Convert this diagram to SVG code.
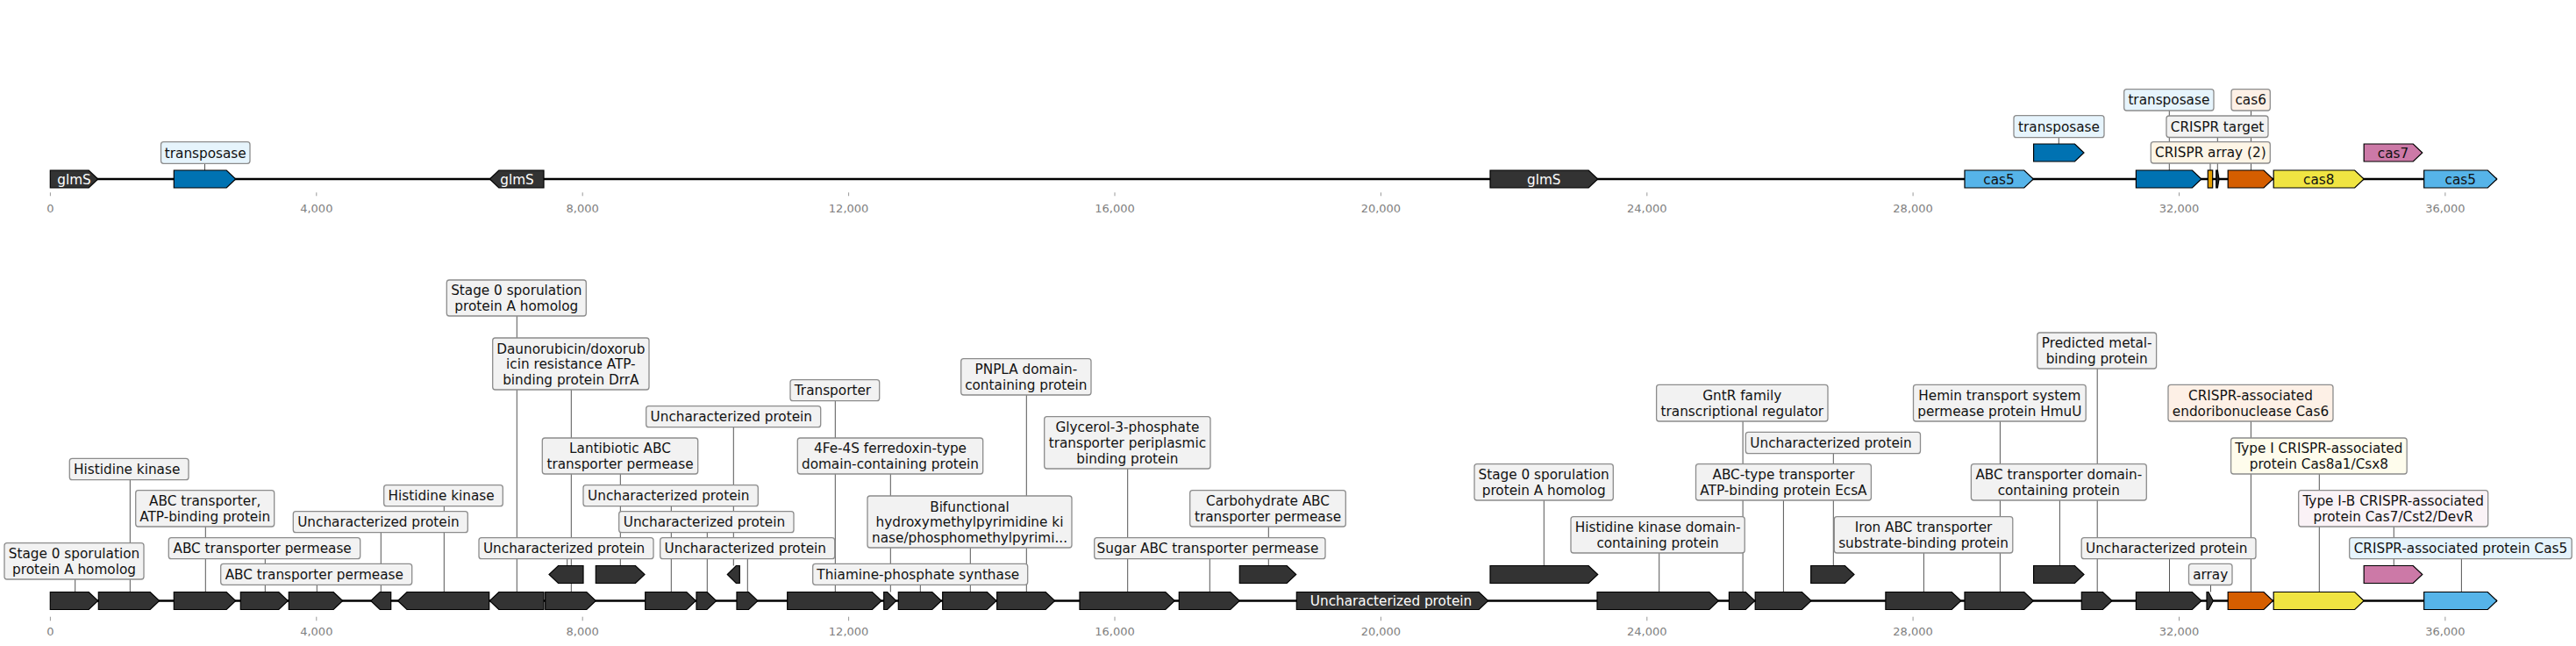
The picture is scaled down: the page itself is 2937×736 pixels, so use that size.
<svg xmlns="http://www.w3.org/2000/svg" width="2937" height="736" viewBox="0 0 2937 736">
<style>
.axis{stroke:#000;stroke-width:2.6;fill:none}
.tk{stroke:#999;stroke-width:1}
.tl{font-family:'DejaVu Sans',sans-serif;font-size:13px;fill:#808080;text-anchor:middle}
.g{stroke:#000;stroke-width:1.2}
.dk{fill:#333}
.tp{fill:#0072b2}
.c5{fill:#56b4e9}
.c6{fill:#d55e00}
.c8{fill:#f0e442}
.c7{fill:#cc79a7}
.cr{fill:#e69f00}
.box{fill:#f2f2f2;stroke:#8c8c8c;stroke-width:1.3}
.bb{fill:#e6f4fc}
.bo{fill:#fdf0e6}
.by{fill:#fefcec}
.bp{fill:#faf2f6}
.ba{fill:#fdf5e6}
.ld{stroke:#555;stroke-width:1;fill:none}
.lt{font-family:'DejaVu Sans',sans-serif;font-size:15.28px;fill:#111;text-anchor:middle}
.gt{font-family:'DejaVu Sans',sans-serif;font-size:15.28px;text-anchor:middle}
.w{fill:#fff}
.k{fill:#111}
</style>
<rect width="2937" height="736" fill="#fff"/>

<g id="axes">
<line class="axis" x1="57.3" y1="204" x2="2846.8" y2="204"/>
<line class="axis" x1="57.3" y1="684.5" x2="2846.8" y2="684.5"/>
<g id="ticks-top">
<line class="tk" x1="57.4" y1="219.3" x2="57.4" y2="223.3"/>
<line class="tk" x1="360.8" y1="219.3" x2="360.8" y2="223.3"/>
<line class="tk" x1="664.2" y1="219.3" x2="664.2" y2="223.3"/>
<line class="tk" x1="967.6" y1="219.3" x2="967.6" y2="223.3"/>
<line class="tk" x1="1271" y1="219.3" x2="1271" y2="223.3"/>
<line class="tk" x1="1574.4" y1="219.3" x2="1574.4" y2="223.3"/>
<line class="tk" x1="1877.8" y1="219.3" x2="1877.8" y2="223.3"/>
<line class="tk" x1="2181.1" y1="219.3" x2="2181.1" y2="223.3"/>
<line class="tk" x1="2484.5" y1="219.3" x2="2484.5" y2="223.3"/>
<line class="tk" x1="2787.9" y1="219.3" x2="2787.9" y2="223.3"/>
<text class="tl" x="57.4" y="241.5">0</text>
<text class="tl" x="360.8" y="241.5">4,000</text>
<text class="tl" x="664.2" y="241.5">8,000</text>
<text class="tl" x="967.6" y="241.5">12,000</text>
<text class="tl" x="1271" y="241.5">16,000</text>
<text class="tl" x="1574.4" y="241.5">20,000</text>
<text class="tl" x="1877.8" y="241.5">24,000</text>
<text class="tl" x="2181.1" y="241.5">28,000</text>
<text class="tl" x="2484.5" y="241.5">32,000</text>
<text class="tl" x="2787.9" y="241.5">36,000</text>
</g>
<g id="ticks-bottom">
<line class="tk" x1="57.4" y1="702.7" x2="57.4" y2="707.3"/>
<line class="tk" x1="360.8" y1="702.7" x2="360.8" y2="707.3"/>
<line class="tk" x1="664.2" y1="702.7" x2="664.2" y2="707.3"/>
<line class="tk" x1="967.6" y1="702.7" x2="967.6" y2="707.3"/>
<line class="tk" x1="1271" y1="702.7" x2="1271" y2="707.3"/>
<line class="tk" x1="1574.4" y1="702.7" x2="1574.4" y2="707.3"/>
<line class="tk" x1="1877.8" y1="702.7" x2="1877.8" y2="707.3"/>
<line class="tk" x1="2181.1" y1="702.7" x2="2181.1" y2="707.3"/>
<line class="tk" x1="2484.5" y1="702.7" x2="2484.5" y2="707.3"/>
<line class="tk" x1="2787.9" y1="702.7" x2="2787.9" y2="707.3"/>
<text class="tl" x="57.4" y="724">0</text>
<text class="tl" x="360.8" y="724">4,000</text>
<text class="tl" x="664.2" y="724">8,000</text>
<text class="tl" x="967.6" y="724">12,000</text>
<text class="tl" x="1271" y="724">16,000</text>
<text class="tl" x="1574.4" y="724">20,000</text>
<text class="tl" x="1877.8" y="724">24,000</text>
<text class="tl" x="2181.1" y="724">28,000</text>
<text class="tl" x="2484.5" y="724">32,000</text>
<text class="tl" x="2787.9" y="724">36,000</text>
</g>
</g>

<g id="connectors">
<line class="ld" x1="233.5" y1="186.3" x2="233.5" y2="194"/>
<line class="ld" x1="2347.3" y1="156.7" x2="2347.3" y2="164"/>
<line class="ld" x1="2473.3" y1="126" x2="2473.3" y2="194"/>
<line class="ld" x1="2566.5" y1="126" x2="2566.5" y2="194"/>
<line class="ld" x1="2528.3" y1="156.5" x2="2528.3" y2="194"/>
<line class="ld" x1="2520" y1="186" x2="2520" y2="194"/>

<line class="ld" x1="85.7" y1="660" x2="85.7" y2="674.5"/>
<line class="ld" x1="148.3" y1="546.7" x2="148.3" y2="674.5"/>
<line class="ld" x1="234.3" y1="600" x2="234.3" y2="674.5"/>
<line class="ld" x1="302.3" y1="636.7" x2="302.3" y2="674.5"/>
<line class="ld" x1="361.3" y1="666.3" x2="361.3" y2="674.5"/>
<line class="ld" x1="434.3" y1="606.7" x2="434.3" y2="674.5"/>
<line class="ld" x1="506.3" y1="576.7" x2="506.3" y2="674.5"/>
<line class="ld" x1="589.3" y1="360" x2="589.3" y2="674.5"/>
<line class="ld" x1="651.3" y1="444" x2="651.3" y2="674.5"/>
<line class="ld" x1="646.7" y1="636.7" x2="646.7" y2="644.5"/>
<line class="ld" x1="707.3" y1="540" x2="707.3" y2="644.5"/>
<line class="ld" x1="765.3" y1="576.7" x2="765.3" y2="674.5"/>
<line class="ld" x1="806.3" y1="606.7" x2="806.3" y2="674.5"/>
<line class="ld" x1="836.3" y1="486.7" x2="836.3" y2="644.5"/>
<line class="ld" x1="852.3" y1="636.7" x2="852.3" y2="674.5"/>
<line class="ld" x1="952.3" y1="456.7" x2="952.3" y2="674.5"/>
<line class="ld" x1="1015.3" y1="540" x2="1015.3" y2="674.5"/>
<line class="ld" x1="1049.3" y1="666.3" x2="1049.3" y2="674.5"/>
<line class="ld" x1="1106.3" y1="624" x2="1106.3" y2="674.5"/>
<line class="ld" x1="1170.3" y1="450" x2="1170.3" y2="674.5"/>
<line class="ld" x1="1285.7" y1="534" x2="1285.7" y2="674.5"/>
<line class="ld" x1="1379.3" y1="636.7" x2="1379.3" y2="674.5"/>
<line class="ld" x1="1446.3" y1="600" x2="1446.3" y2="644.5"/>
<line class="ld" x1="1760.3" y1="570" x2="1760.3" y2="644.5"/>
<line class="ld" x1="1891.7" y1="630" x2="1891.7" y2="674.5"/>
<line class="ld" x1="1987.1" y1="480" x2="1987.1" y2="674.5"/>
<line class="ld" x1="2090.3" y1="516.7" x2="2090.3" y2="644.5"/>
<line class="ld" x1="2033.4" y1="570" x2="2033.4" y2="674.5"/>
<line class="ld" x1="2193.4" y1="630" x2="2193.4" y2="674.5"/>
<line class="ld" x1="2280.4" y1="480" x2="2280.4" y2="674.5"/>
<line class="ld" x1="2348.4" y1="570" x2="2348.4" y2="644.5"/>
<line class="ld" x1="2391.2" y1="420" x2="2391.2" y2="674.5"/>
<line class="ld" x1="2473.5" y1="636.7" x2="2473.5" y2="674.5"/>
<line class="ld" x1="2520.5" y1="666.5" x2="2520.5" y2="674.5"/>
<line class="ld" x1="2566.4" y1="480" x2="2566.4" y2="674.5"/>
<line class="ld" x1="2644.3" y1="540" x2="2644.3" y2="674.5"/>
<line class="ld" x1="2729.3" y1="600" x2="2729.3" y2="644.5"/>
<line class="ld" x1="2806.4" y1="636.7" x2="2806.4" y2="674.5"/>
</g>

<g id="top-genes">
<g id="t-glmS-1"><path class="g dk" d="M57.3 194H101.2L111.7 204L101.2 214H57.3Z"/><text class="gt w" x="84.5" y="209.6">glmS</text></g>
<g id="t-transposase-1"><path class="g tp" d="M198.3 194H258.2L268.7 204L258.2 214H198.3Z"/></g>
<g id="t-glmS-2"><path class="g dk" d="M620 194H568.8L558.3 204L568.8 214H620Z"/><text class="gt w" x="589.5" y="209.6">glmS</text></g>
<g id="t-glmS-3"><path class="g dk" d="M1699 194H1811.2L1821.7 204L1811.2 214H1699Z"/><text class="gt w" x="1760.3" y="209.6">glmS</text></g>
<g id="t-cas5-1"><path class="g c5" d="M2240 194H2307.8L2318.3 204L2307.8 214H2240Z"/><text class="gt k" x="2279" y="209.6">cas5</text></g>
<g id="t-transposase-2"><path class="g tp" d="M2318.6 164H2365.5L2376 174L2365.5 184H2318.6Z"/></g>
<g id="t-transposase-3"><path class="g tp" d="M2435.4 194H2499.4L2509.9 204L2499.4 214H2435.4Z"/></g>
<g id="t-crispr-array"><rect class="g cr" x="2517.3" y="194" width="5.4" height="20"/></g>
<g id="t-crispr-target"><path class="g" fill="#222" d="M2526.7 194H2528.4L2530 204L2528.4 214H2526.7Z"/></g>
<g id="t-cas6"><path class="g c6" d="M2540.2 194H2581L2591.5 204L2581 214H2540.2Z"/></g>
<g id="t-cas8"><path class="g c8" d="M2592.2 194H2684.7L2695.2 204L2684.7 214H2592.2Z"/><text class="gt k" x="2643.7" y="209.6">cas8</text></g>
<g id="t-cas7"><path class="g c7" d="M2695.2 164H2751.3L2761.8 174L2751.3 184H2695.2Z"/><text class="gt k" x="2728.5" y="179.6">cas7</text></g>
<g id="t-cas5-2"><path class="g c5" d="M2763.7 194H2836.3L2846.8 204L2836.3 214H2763.7Z"/><text class="gt k" x="2805.2" y="209.6">cas5</text></g>
</g>

<g id="bottom-genes">
<path id="b-g1" class="g dk" d="M57.3 674.5H101.2L111.7 684.5L101.2 694.5H57.3Z"/>
<path id="b-g2" class="g dk" d="M112.3 674.5H171.2L181.7 684.5L171.2 694.5H112.3Z"/>
<path id="b-g3" class="g dk" d="M198.3 674.5H258.2L268.7 684.5L258.2 694.5H198.3Z"/>
<path id="b-g4" class="g dk" d="M274.3 674.5H317.8L328.3 684.5L317.8 694.5H274.3Z"/>
<path id="b-g5" class="g dk" d="M329.3 674.5H380.2L390.7 684.5L380.2 694.5H329.3Z"/>
<path id="b-g6" class="g dk" d="M445.7 674.5H433.2L422.7 684.5L433.2 694.5H445.7Z"/>
<path id="b-g7" class="g dk" d="M557.7 674.5H464L453.5 684.5L464 694.5H557.7Z"/>
<path id="b-g8" class="g dk" d="M620 674.5H568.8L558.3 684.5L568.8 694.5H620Z"/>
<path id="b-g9" class="g dk" d="M621.7 674.5H668.8L679.3 684.5L668.8 694.5H621.7Z"/>
<path id="b-g10" class="g dk" d="M735.7 674.5H782.8L793.3 684.5L782.8 694.5H735.7Z"/>
<path id="b-g11" class="g dk" d="M794 674.5H806.2L816.7 684.5L806.2 694.5H794Z"/>
<path id="b-g12" class="g dk" d="M840 674.5H853.5L864 684.5L853.5 694.5H840Z"/>
<path id="b-g13" class="g dk" d="M897.7 674.5H994.5L1005 684.5L994.5 694.5H897.7Z"/>
<path id="b-g14" class="g dk" d="M1007.7 674.5H1011.7L1021.7 684.5L1011.7 694.5H1007.7Z"/>
<path id="b-g15" class="g dk" d="M1024.3 674.5H1062.8L1073.3 684.5L1062.8 694.5H1024.3Z"/>
<path id="b-g16" class="g dk" d="M1074.7 674.5H1125.5L1136 684.5L1125.5 694.5H1074.7Z"/>
<path id="b-g17" class="g dk" d="M1136.7 674.5H1192.2L1202.7 684.5L1192.2 694.5H1136.7Z"/>
<path id="b-g18" class="g dk" d="M1231 674.5H1328.8L1339.3 684.5L1328.8 694.5H1231Z"/>
<path id="b-g19" class="g dk" d="M1344.3 674.5H1402.8L1413.3 684.5L1402.8 694.5H1344.3Z"/>
<g id="b-g20"><path class="g dk" d="M1478.3 674.5H1686.2L1696.7 684.5L1686.2 694.5H1478.3Z"/><text class="gt w" x="1586" y="690.1">Uncharacterized protein</text></g>
<path id="b-g21" class="g dk" d="M1821 674.5H1948.9L1959.4 684.5L1948.9 694.5H1821Z"/>
<path id="b-g22" class="g dk" d="M1971.4 674.5H1990.3L2000.8 684.5L1990.3 694.5H1971.4Z"/>
<path id="b-g23" class="g dk" d="M2001.2 674.5H2054.5L2065 684.5L2054.5 694.5H2001.2Z"/>
<path id="b-g24" class="g dk" d="M2149.9 674.5H2225.3L2235.8 684.5L2225.3 694.5H2149.9Z"/>
<path id="b-g25" class="g dk" d="M2240 674.5H2307.8L2318.3 684.5L2307.8 694.5H2240Z"/>
<path id="b-g26" class="g dk" d="M2373.3 674.5H2397.5L2408 684.5L2397.5 694.5H2373.3Z"/>
<path id="b-g27" class="g dk" d="M2435.4 674.5H2499.4L2509.9 684.5L2499.4 694.5H2435.4Z"/>
<path id="b-array" class="g dk" d="M2516 674.5H2518L2523.3 684.5L2518 694.5H2516Z"/>
<path id="b-cas6" class="g c6" d="M2540.2 674.5H2581L2591.5 684.5L2581 694.5H2540.2Z"/>
<path id="b-cas8" class="g c8" d="M2592.2 674.5H2684.7L2695.2 684.5L2684.7 694.5H2592.2Z"/>
<path id="b-cas5" class="g c5" d="M2763.7 674.5H2836.3L2846.8 684.5L2836.3 694.5H2763.7Z"/>
<path id="b-u1" class="g dk" d="M665 644.5H636.5L626 654.5L636.5 664.5H665Z"/>
<path id="b-u2" class="g dk" d="M679.3 644.5H724.5L735 654.5L724.5 664.5H679.3Z"/>
<path id="b-u3" class="g dk" d="M843.3 644.5H839.3L829.3 654.5L839.3 664.5H843.3Z"/>
<path id="b-u4" class="g dk" d="M1413.3 644.5H1467.2L1477.7 654.5L1467.2 664.5H1413.3Z"/>
<path id="b-u5" class="g dk" d="M1699 644.5H1811.2L1821.7 654.5L1811.2 664.5H1699Z"/>
<path id="b-u6" class="g dk" d="M2064.7 644.5H2103.5L2114 654.5L2103.5 664.5H2064.7Z"/>
<path id="b-u7" class="g dk" d="M2318.6 644.5H2365.5L2376 654.5L2365.5 664.5H2318.6Z"/>
<path id="b-cas7" class="g c7" d="M2695.2 644.5H2751.3L2761.8 654.5L2751.3 664.5H2695.2Z"/>
</g>

<g id="top-labels">
<g id="tl1"><rect class="box bb" x="183.5" y="161.7" width="101.5" height="24.6" rx="3"/><text class="lt" x="234.25" y="179.6">transposase</text></g>
<g id="tl2"><rect class="box bb" x="2296" y="131.7" width="103" height="25" rx="3"/><text class="lt" x="2347.5" y="149.8">transposase</text></g>
<g id="tl3"><rect class="box bb" x="2421.7" y="101.7" width="102.3" height="24.3" rx="3"/><text class="lt" x="2472.85" y="119.45">transposase</text></g>
<g id="tl4"><rect class="box bo" x="2544" y="101.7" width="44.3" height="24.3" rx="3"/><text class="lt" x="2566.15" y="119.45">cas6</text></g>
<g id="tl5"><rect class="box" x="2470" y="132" width="116" height="24.5" rx="3"/><text class="lt" x="2528" y="149.85">CRISPR target</text></g>
<g id="tl6"><rect class="box ba" x="2452.3" y="161.7" width="136" height="24.3" rx="3"/><text class="lt" x="2520.3" y="179.45">CRISPR array (2)</text></g>
</g>

<g id="bottom-labels">
<g id="bl1"><rect class="box" x="5" y="618.7" width="159" height="41.3" rx="3"/><text class="lt" x="84.5" y="636.2">Stage 0 sporulation<tspan x="84.5" y="653.8">protein A homolog</tspan></text></g>
<g id="bl2"><rect class="box" x="79.3" y="522.3" width="135.7" height="24.4" rx="3"/><text class="lt" x="144.7" y="540.1">Histidine kinase</text></g>
<g id="bl3"><rect class="box" x="154.7" y="558.7" width="158" height="41.3" rx="3"/><text class="lt" x="233.7" y="576.2">ABC transporter,<tspan x="233.7" y="593.8">ATP-binding protein</tspan></text></g>
<g id="bl4"><rect class="box" x="192.3" y="612.7" width="218.4" height="24" rx="3"/><text class="lt" x="299.1" y="630.3">ABC transporter permease</text></g>
<g id="bl5"><rect class="box" x="251.7" y="642.3" width="218" height="24" rx="3"/><text class="lt" x="358.3" y="659.9">ABC transporter permease</text></g>
<g id="bl6"><rect class="box" x="334.3" y="582.7" width="199" height="24" rx="3"/><text class="lt" x="431.4" y="600.3">Uncharacterized protein</text></g>
<g id="bl7"><rect class="box" x="437.7" y="552.7" width="135.6" height="24" rx="3"/><text class="lt" x="503.1" y="570.3">Histidine kinase</text></g>
<g id="bl8"><rect class="box" x="509.3" y="319" width="159" height="41" rx="3"/><text class="lt" x="588.8" y="336.3">Stage 0 sporulation<tspan x="588.8" y="353.9">protein A homolog</tspan></text></g>
<g id="bl9"><rect class="box" x="561.7" y="385" width="178.3" height="59" rx="3"/><text class="lt" x="650.85" y="402.5">Daunorubicin/doxorub<tspan x="650.85" y="420.1">icin resistance ATP-</tspan><tspan x="650.85" y="437.7">binding protein DrrA</tspan></text></g>
<g id="bl10"><rect class="box" x="546" y="612.7" width="199" height="24" rx="3"/><text class="lt" x="643.1" y="630.3">Uncharacterized protein</text></g>
<g id="bl11"><rect class="box" x="618.3" y="499" width="177.4" height="41" rx="3"/><text class="lt" x="707" y="516.3">Lantibiotic ABC<tspan x="707" y="533.9">transporter permease</tspan></text></g>
<g id="bl12"><rect class="box" x="665" y="552.7" width="199.3" height="24" rx="3"/><text class="lt" x="762.25" y="570.3">Uncharacterized protein</text></g>
<g id="bl13"><rect class="box" x="705.7" y="582.7" width="199.3" height="24" rx="3"/><text class="lt" x="802.95" y="600.3">Uncharacterized protein</text></g>
<g id="bl14"><rect class="box" x="736.7" y="462.7" width="199" height="24" rx="3"/><text class="lt" x="833.8" y="480.3">Uncharacterized protein</text></g>
<g id="bl15"><rect class="box" x="752.7" y="612.7" width="199" height="24" rx="3"/><text class="lt" x="849.8" y="630.3">Uncharacterized protein</text></g>
<g id="bl16"><rect class="box" x="901" y="432.7" width="101.7" height="24" rx="3"/><text class="lt" x="949.45" y="450.3">Transporter</text></g>
<g id="bl17"><rect class="box" x="909.3" y="499" width="211.4" height="41" rx="3"/><text class="lt" x="1015" y="516.3">4Fe-4S ferredoxin-type<tspan x="1015" y="533.9">domain-containing protein</tspan></text></g>
<g id="bl18"><rect class="box" x="926.7" y="642.3" width="245" height="24" rx="3"/><text class="lt" x="1046.8" y="659.9">Thiamine-phosphate synthase</text></g>
<g id="bl19"><rect class="box" x="989" y="565" width="233" height="59" rx="3"/><text class="lt" x="1105.5" y="582.5">Bifunctional<tspan x="1105.5" y="600.1">hydroxymethylpyrimidine ki</tspan><tspan x="1105.5" y="617.7">nase/phosphomethylpyrimi...</tspan></text></g>
<g id="bl20"><rect class="box" x="1095.7" y="408.7" width="148.3" height="41.3" rx="3"/><text class="lt" x="1169.85" y="426.2">PNPLA domain-<tspan x="1169.85" y="443.8">containing protein</tspan></text></g>
<g id="bl21"><rect class="box" x="1190.7" y="474.7" width="189.3" height="59.3" rx="3"/><text class="lt" x="1285.35" y="492.35">Glycerol-3-phosphate<tspan x="1285.35" y="509.95">transporter periplasmic</tspan><tspan x="1285.35" y="527.55">binding protein</tspan></text></g>
<g id="bl22"><rect class="box" x="1247.7" y="612.7" width="263.3" height="24" rx="3"/><text class="lt" x="1376.95" y="630.3">Sugar ABC transporter permease</text></g>
<g id="bl23"><rect class="box" x="1356.7" y="558.7" width="177.6" height="41.3" rx="3"/><text class="lt" x="1445.5" y="576.2">Carbohydrate ABC<tspan x="1445.5" y="593.8">transporter permease</tspan></text></g>
<g id="bl24"><rect class="box" x="1681" y="528.7" width="158.3" height="41.3" rx="3"/><text class="lt" x="1760.15" y="546.2">Stage 0 sporulation<tspan x="1760.15" y="563.8">protein A homolog</tspan></text></g>
<g id="bl25"><rect class="box" x="1791" y="588.7" width="198.2" height="41.3" rx="3"/><text class="lt" x="1890.1" y="606.2">Histidine kinase domain-<tspan x="1890.1" y="623.8">containing protein</tspan></text></g>
<g id="bl26"><rect class="box" x="1888.6" y="438.3" width="195.4" height="41.7" rx="3"/><text class="lt" x="1986.3" y="456">GntR family<tspan x="1986.3" y="473.6">transcriptional regulator</tspan></text></g>
<g id="bl27"><rect class="box" x="1990.3" y="492.3" width="199.2" height="24.4" rx="3"/><text class="lt" x="2087.5" y="510.1">Uncharacterized protein</text></g>
<g id="bl28"><rect class="box" x="1933.5" y="528.7" width="199.9" height="41.3" rx="3"/><text class="lt" x="2033.45" y="546.2">ABC-type transporter<tspan x="2033.45" y="563.8">ATP-binding protein EcsA</tspan></text></g>
<g id="bl29"><rect class="box" x="2091.3" y="588.7" width="203.5" height="41.3" rx="3"/><text class="lt" x="2193.05" y="606.2">Iron ABC transporter<tspan x="2193.05" y="623.8">substrate-binding protein</tspan></text></g>
<g id="bl30"><rect class="box" x="2181.5" y="438.3" width="196.7" height="41.7" rx="3"/><text class="lt" x="2279.85" y="456">Hemin transport system<tspan x="2279.85" y="473.6">permease protein HmuU</tspan></text></g>
<g id="bl31"><rect class="box" x="2247.4" y="528.7" width="199.9" height="41.3" rx="3"/><text class="lt" x="2347.35" y="546.2">ABC transporter domain-<tspan x="2347.35" y="563.8">containing protein</tspan></text></g>
<g id="bl32"><rect class="box" x="2322.8" y="379" width="135.8" height="41" rx="3"/><text class="lt" x="2390.7" y="396.3">Predicted metal-<tspan x="2390.7" y="413.9">binding protein</tspan></text></g>
<g id="bl33"><rect class="box" x="2373.2" y="612.7" width="198.8" height="24" rx="3"/><text class="lt" x="2470.2" y="630.3">Uncharacterized protein</text></g>
<g id="bl34"><rect class="box" x="2495.5" y="642.3" width="49.5" height="24.2" rx="3"/><text class="lt" x="2520.25" y="660">array</text></g>
<g id="bl35"><rect class="box bo" x="2472" y="438.3" width="188" height="41.7" rx="3"/><text class="lt" x="2566" y="456">CRISPR-associated<tspan x="2566" y="473.6">endoribonuclease Cas6</tspan></text></g>
<g id="bl36"><rect class="box by" x="2543.6" y="499" width="200.6" height="41" rx="3"/><text class="lt" x="2643.9" y="516.3">Type I CRISPR-associated<tspan x="2643.9" y="533.9">protein Cas8a1/Csx8</tspan></text></g>
<g id="bl37"><rect class="box bp" x="2620.7" y="558.7" width="216" height="41.3" rx="3"/><text class="lt" x="2728.7" y="576.2">Type I-B CRISPR-associated<tspan x="2728.7" y="593.8">protein Cas7/Cst2/DevR</tspan></text></g>
<g id="bl38"><rect class="box bb" x="2678.7" y="612.7" width="253.5" height="24" rx="3"/><text class="lt" x="2805.45" y="630.3">CRISPR-associated protein Cas5</text></g>
</g>
</svg>
